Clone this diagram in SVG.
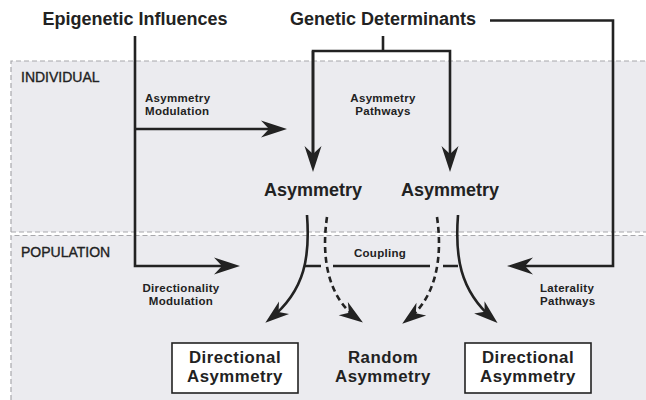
<svg xmlns="http://www.w3.org/2000/svg" width="646" height="400" viewBox="0 0 646 400">
<style>
  .panel { fill: #ebebef; }
  .border { stroke: #a8a8ac; stroke-width: 1.2; stroke-dasharray: 5 3; fill: none; }
  .ln { stroke: #222; stroke-width: 2.6; fill: none; stroke-linejoin: miter; }
  .dash { stroke: #222; stroke-width: 2.6; fill: none; stroke-dasharray: 6 4; }
  text { font-family: "Liberation Sans", Arial, Helvetica, sans-serif; fill: #222; }
  .big { font-size: 18px; font-weight: bold; }
  .two { font-size: 16.8px; font-weight: bold; letter-spacing: 0.5px; }
  .lab { font-size: 11.5px; font-weight: bold; letter-spacing: 0.3px; }
  .zone { font-size: 14px; stroke: #222; stroke-width: 0.35; }
  .box { fill: #fff; stroke: #222; stroke-width: 1.6; }
</style>
<defs>
  <marker id="ah" viewBox="-27 -9 28 18" refX="-8" refY="0" markerWidth="28" markerHeight="18" orient="auto" markerUnits="userSpaceOnUse">
    <path d="M0,0 L-26,-8.5 L-18,0 L-26,8.5 Z" fill="#222"/>
  </marker>
  <marker id="ahc" viewBox="-25 -9 26 18" refX="-6" refY="0" markerWidth="26" markerHeight="18" orient="auto" markerUnits="userSpaceOnUse">
    <path d="M0,0 L-24,-8 L-17,0 L-24,8 Z" fill="#222"/>
  </marker>
</defs>

<g id="panels">
  <rect class="panel" x="11" y="61" width="635" height="171"/>
  <rect class="panel" x="11" y="235.5" width="635" height="164.5"/>
  <path class="border" d="M11,400 L11,235.5 L646,235.5"/>
  <path class="border" d="M11,232 L11,61 L646,61"/>
  <line class="border" x1="11" y1="232" x2="646" y2="232"/>
  <text class="zone" x="21" y="82">INDIVIDUAL</text>
  <text class="zone" x="21" y="257">POPULATION</text>
</g>

<g id="connectors">
  <path class="ln" d="M135,36 L135,266 L232,266" marker-end="url(#ah)"/>
  <path class="ln" d="M135,129 L279,129" marker-end="url(#ah)"/>
  <path class="ln" d="M383,36 L383,51"/>
  <path class="ln" d="M313,164 L313,51 L450,51 L450,164" marker-end="url(#ah)"/>
  <path class="ln" d="M313,51 L313,164" marker-end="url(#ah)"/>
  <path class="ln" d="M490,20.5 L613,20.5 L613,266 L515,266" marker-end="url(#ah)"/>
  <path class="ln" d="M305,266 L321,266 M333,266 L430,266 M443,266 L458,266"/>
  <path class="ln" d="M307,215 C310,255 306,290 270,319" marker-end="url(#ahc)"/>
  <path class="ln" d="M458,215 C455,255 459,290 493,319" marker-end="url(#ahc)"/>
  <path class="dash" d="M327,217 C321,258 328,298 358,319" marker-end="url(#ahc)"/>
  <path class="dash" d="M437,217 C443,258 436,298 407,320" marker-end="url(#ahc)"/>
</g>

<g id="epigenetic">
  <text class="big" x="135" y="25" text-anchor="middle">Epigenetic Influences</text>
</g>
<g id="genetic">
  <text class="big" x="383" y="25" text-anchor="middle">Genetic Determinants</text>
</g>
<g id="asym-mod">
  <text class="lab" x="145" y="102">Asymmetry</text>
  <text class="lab" x="145" y="115">Modulation</text>
</g>
<g id="asym-path">
  <text class="lab" x="383" y="102" text-anchor="middle">Asymmetry</text>
  <text class="lab" x="383" y="115" text-anchor="middle">Pathways</text>
</g>
<g id="asymmetry-left">
  <text class="big" x="313" y="196" text-anchor="middle">Asymmetry</text>
</g>
<g id="asymmetry-right">
  <text class="big" x="450" y="196" text-anchor="middle">Asymmetry</text>
</g>
<g id="coupling">
  <text class="lab" x="380" y="257" text-anchor="middle">Coupling</text>
</g>
<g id="dir-mod">
  <text class="lab" x="181" y="292" text-anchor="middle">Directionality</text>
  <text class="lab" x="181" y="305" text-anchor="middle">Modulation</text>
</g>
<g id="lat-path">
  <text class="lab" x="540" y="292">Laterality</text>
  <text class="lab" x="540" y="305">Pathways</text>
</g>
<g id="directional-left">
  <rect class="box" x="172" y="343" width="126" height="50"/>
  <text class="two" x="235" y="363" text-anchor="middle">Directional</text>
  <text class="two" x="235" y="382" text-anchor="middle">Asymmetry</text>
</g>
<g id="random">
  <text class="two" x="383" y="363" text-anchor="middle">Random</text>
  <text class="two" x="383" y="382" text-anchor="middle">Asymmetry</text>
</g>
<g id="directional-right">
  <rect class="box" x="465" y="343" width="126" height="50"/>
  <text class="two" x="528" y="363" text-anchor="middle">Directional</text>
  <text class="two" x="528" y="382" text-anchor="middle">Asymmetry</text>
</g>
</svg>
